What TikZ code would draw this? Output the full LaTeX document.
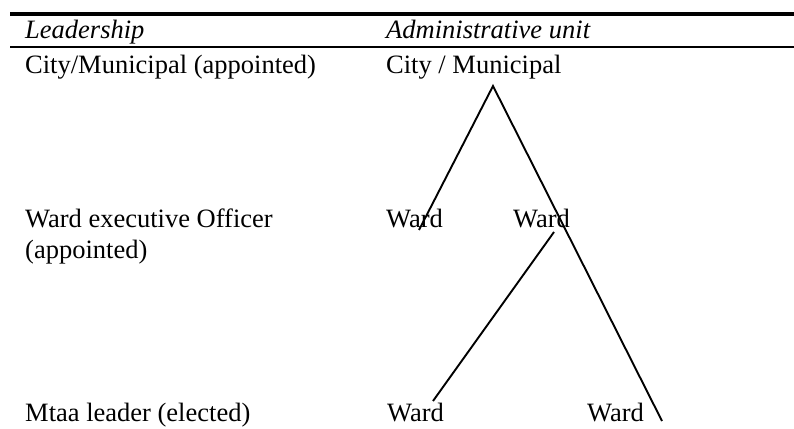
\documentclass[tikz,border=0pt]{standalone}
\usepackage{fontspec}
\setmainfont{Liberation Serif}
\begin{document}
\begin{tikzpicture}[x=1pt,y=-1pt,
  lbl/.style={anchor=base west,inner sep=0pt,font=\fontsize{26.5}{30}\selectfont},
  hdr/.style={lbl,font=\fontsize{26.5}{30}\selectfont\itshape},
  branch/.style={line width=1.9pt}]
\useasboundingbox (0,0) rectangle (794,428);
% table rules
\draw[line width=4.4pt] (10,13.8) -- (794,13.8);
\draw[line width=2pt] (10,47) -- (794,47);
% header
\node[hdr] (hlead) at (25,39) {Leadership};
\node[hdr] (hunit) at (386,39) {Administrative unit};
% first row
\node[lbl] (lcity) at (25,73) {City/Municipal (appointed)};
\node[lbl] (ucity) at (386,73) {City / Municipal};
% second row
\node[lbl] (lward) at (25,227) {Ward executive Officer};
\node[lbl] (lwardb) at (25,258) {(appointed)};
\node[lbl] (wa) at (386,227) {Ward};
\node[lbl] (wb) at (513,227) {Ward};
% third row
\node[lbl] (lmtaa) at (25,421.5) {Mtaa leader (elected)};
\node[lbl] (wc) at (387,421.5) {Ward};
\node[lbl] (wd) at (587,421.5) {Ward};
% branch end points
\coordinate (apex) at (493,86);
\coordinate (ea) at (419,230);
\coordinate (eb) at (554,232);
\coordinate (ec) at (433,401);
\coordinate (ed) at (662,421);
\draw[branch] (ea) -- (apex) -- (ed);
\draw[branch] (eb) -- (ec);
\end{tikzpicture}
\end{document}
